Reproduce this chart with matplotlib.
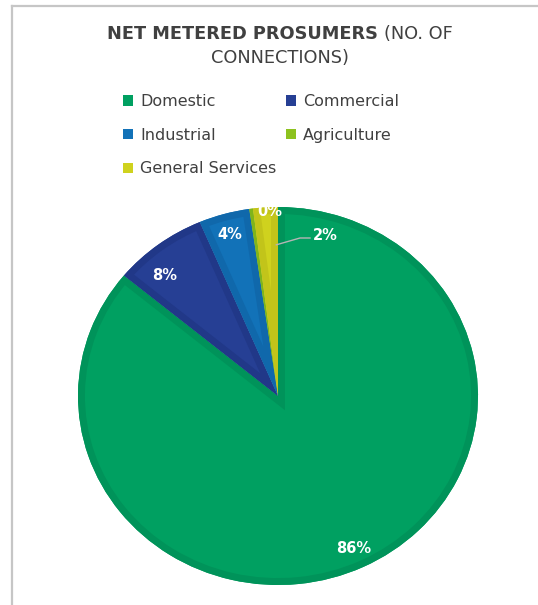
import matplotlib.pyplot as plt
from matplotlib.patches import Wedge
from matplotlib.lines import Line2D
import numpy as np

plt.rcParams['font.family'] = ['DejaVu Sans']

# dados do gráfico
categorias = ['Domestic', 'Commercial', 'Industrial', 'Agriculture', 'General Services']
valores = [86.0, 7.6, 4.1, 0.3, 2.0]
cores = ['#00a061', '#263f94', '#1272b8', '#8dc21f', '#cfd21e']
cores_borda = ['#00935a', '#213888', '#1068ab', '#80b41a', '#c2c41a']

W, H = 538, 605
fig = plt.figure(figsize=(W / 100, H / 100), dpi=100)
ax = fig.add_axes([0, 0, 1, 1])

# centro da pizza em pixels e raios (a pizza é levemente achatada)
cx, cy = 278, H - 396
rx, ry = 200, 189

total = sum(valores)
wedges, _ = ax.pie(valores, colors=cores, startangle=90, counterclock=False,
                   radius=1, wedgeprops=dict(linewidth=0))
ax.set_aspect('auto')
ax.set_xlim(-cx / rx, (W - cx) / rx)
ax.set_ylim(-cy / ry, (H - cy) / ry)
ax.axis('off')

# borda interna mais escura em cada fatia
for w, cb in zip(wedges, cores_borda):
    borda = Wedge(w.center, w.r, w.theta1, w.theta2, facecolor='none',
                  edgecolor=cb, linewidth=10)
    ax.add_patch(borda)
    borda.set_clip_path(w)

# rótulos de porcentagem
for i, (w, v) in enumerate(zip(wedges, valores)):
    meio = (w.theta1 + w.theta2) / 2
    txt = '%.0f%%' % (100 * v / total)
    kw = dict(color='white', fontsize=10.5, fontweight='bold', ha='center', va='center')
    if categorias[i] == 'Agriculture':
        ax.text(-0.04, 0.975, txt, **kw)
    elif categorias[i] == 'General Services':
        a0 = np.radians(min(w.theta1, w.theta2) + 0.6)
        x0, y0 = np.cos(a0) * 0.80, np.sin(a0) * 0.80
        ax.plot([x0, 0.11, 0.16], [y0, 0.836, 0.836], color='#b5b5b5', lw=1)
        ax.text(0.235, 0.85, txt, **kw)
    elif categorias[i] == 'Commercial':
        ax.text(-0.565, 0.635, txt, **kw)
    else:
        ax.text(np.cos(np.radians(meio)) * 0.89, np.sin(np.radians(meio)) * 0.89, txt, **kw)

# moldura cinza
fig.add_artist(Line2D([12 / W, 12 / W], [0, 1 - 6 / H], color='#c6c6c6', lw=1.6))
fig.add_artist(Line2D([12 / W, 1], [1 - 6 / H, 1 - 6 / H], color='#c6c6c6', lw=1.6))

# título: parte em negrito + parte normal
cor_txt = '#404040'
fig.canvas.draw()
r = fig.canvas.get_renderer()
t1 = fig.text(0, 0, 'NET METERED PROSUMERS ', fontsize=12.8, fontweight='bold', color=cor_txt)
t2 = fig.text(0, 0, '(NO. OF', fontsize=12.8, color=cor_txt)
w1 = t1.get_window_extent(r).width
w2 = t2.get_window_extent(r).width
x_ini = 280 - (w1 + w2) / 2
y1 = 1 - 34 / H
t1.set_position((x_ini / W, y1))
t2.set_position(((x_ini + w1) / W, y1))
t1.set_va('center')
t2.set_va('center')
fig.text(280 / W, 1 - 58 / H, 'CONNECTIONS)', fontsize=12.8, color=cor_txt,
         ha='center', va='center')

# legenda (ordem por linha)
ordem = [0, 2, 4, 1, 3]
leg = fig.legend([wedges[i] for i in ordem], [categorias[i] for i in ordem],
                 ncol=2, loc='upper left', bbox_to_anchor=(115 / W, 1 - 86 / H),
                 frameon=False, fontsize=11.5, handlelength=0.62, handleheight=0.62,
                 handletextpad=0.45, columnspacing=0.6, labelspacing=1.17,
                 borderpad=0, labelcolor=cor_txt)

fig.savefig('out.png', dpi=100)
